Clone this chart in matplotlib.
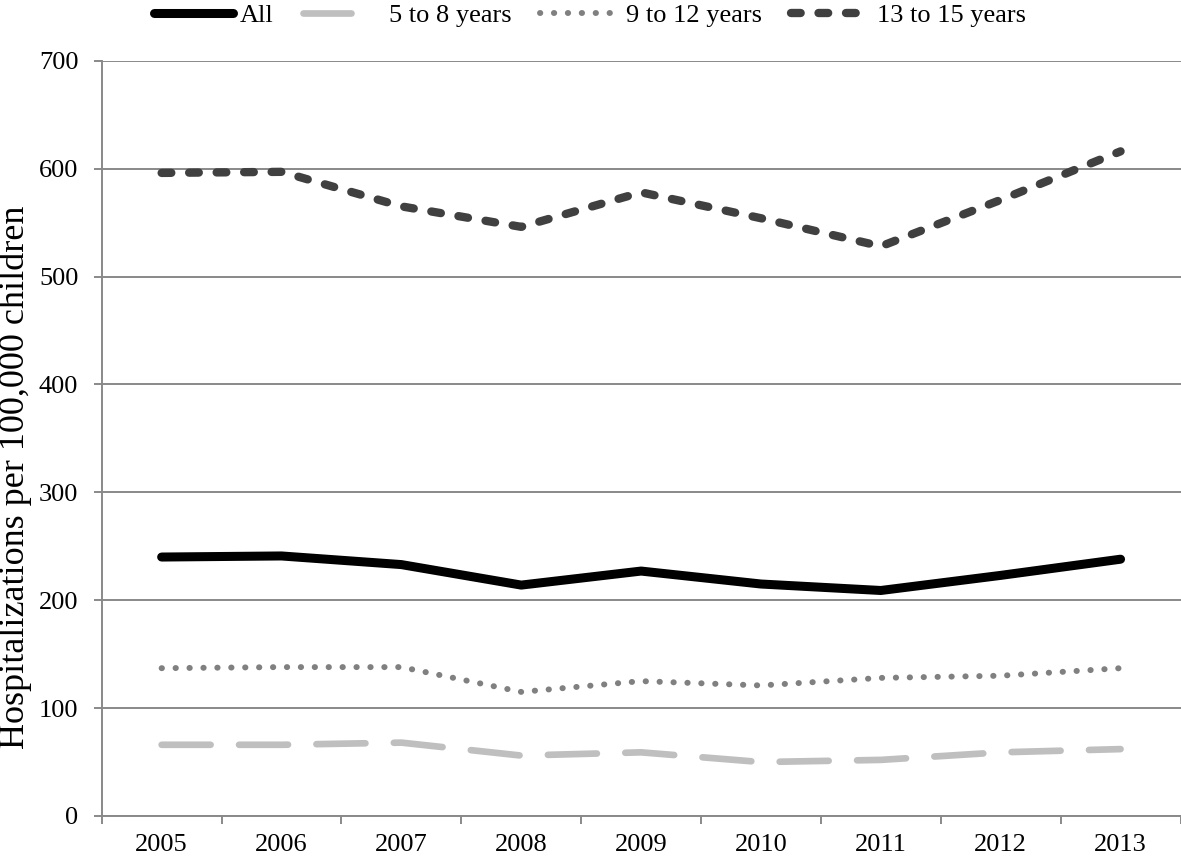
import matplotlib
matplotlib.use("Agg")
import matplotlib.pyplot as plt
import numpy as np
from matplotlib.ticker import FixedLocator
from matplotlib.lines import Line2D

years = ["2005", "2006", "2007", "2008", "2009", "2010", "2011", "2012", "2013"]
series_names = ["All", "5 to 8 years", "9 to 12 years", "13 to 15 years"]
all_ages = [240, 241, 233, 214, 227, 215, 209, 223, 238]
age_5_8 = [66, 66, 68, 56, 59, 50, 52, 59, 62]
age_9_12 = [137, 138, 138, 115, 125, 121, 128, 130, 137]
age_13_15 = [596, 597, 565, 546, 578, 554, 528, 571, 616]
y_ticks = [0, 100, 200, 300, 400, 500, 600, 700]
y_label = "Hospitalizations per 100,000 children"

plt.rcParams['font.family'] = ['Liberation Serif', 'DejaVu Serif']
FS = 19
GRID = '#898989'

fig = plt.figure(figsize=(11.81, 8.58), dpi=100)
ax = fig.add_axes([101.7 / 1181, 1 - 816 / 858, (1180.5 - 101.7) / 1181, (816 - 60.7) / 858])

x = np.arange(len(years))

l1, = ax.plot(x, all_ages, color='black', lw=6.5, solid_capstyle='round',
              solid_joinstyle='round', label=series_names[0], zorder=3)
l2, = ax.plot(x, age_5_8, color='#BFBFBF', lw=4.8, label=series_names[1], zorder=3)
l2.set_dash_capstyle('round')
l2.set_dashes([7.35, 4.26])
l3, = ax.plot(x, age_9_12, color='#808080', lw=4.3, label=series_names[2], zorder=3)
l3.set_dash_capstyle('round')
l3.set_dashes([0.05, 2.28])
l4, = ax.plot(x, age_13_15, color='#404040', lw=6.0, label=series_names[3], zorder=3)
l4.set_dash_capstyle('round')
l4.set_dashes([1.16, 2.14])

ax.set_xlim(-0.5, len(years) - 0.5)
ax.set_ylim(0, 700)
ax.set_yticks(y_ticks)
ax.set_yticklabels([str(v) for v in y_ticks], fontsize=FS)
ax.set_xticks(x)
ax.set_xticklabels(years, fontsize=FS)
ax.xaxis.set_minor_locator(FixedLocator(np.arange(-0.5, len(years), 1.0)))

ax.tick_params(axis='x', which='major', length=0, pad=13)
ax.tick_params(axis='x', which='minor', length=5.8, width=1.4, color=GRID, direction='out')
ax.tick_params(axis='y', which='major', length=5.8, width=1.4, color=GRID, direction='out', pad=11)

ax.grid(axis='y', color=GRID, lw=1.4, zorder=1)
ax.set_axisbelow(True)
for s in ['top', 'right']:
    ax.spines[s].set_visible(False)
for s in ['left', 'bottom']:
    ax.spines[s].set_color(GRID)
    ax.spines[s].set_linewidth(1.4)

ax.set_ylabel(y_label, fontsize=26)
ax.yaxis.label.set_va('center')
ax.yaxis.set_label_coords((15 - 101.7) / (1180.5 - 101.7), (816 - 477) / (816 - 60.7))

# legend handles (same styles; light dash shown as one dash like the original)
h1 = Line2D([], [], color='black', lw=6.5, solid_capstyle='round')
h2 = Line2D([], [], color='#BFBFBF', lw=4.8, dash_capstyle='round', dashes=[7.2, 30])
h3 = Line2D([], [], color='#808080', lw=4.3, dash_capstyle='round', dashes=[0.05, 2.28])
h4 = Line2D([], [], color='#404040', lw=6.0, dash_capstyle='round', dashes=[1.16, 2.14])

leg = fig.legend(handles=[h1, h2, h3, h4], labels=series_names, loc='upper center',
                 bbox_to_anchor=(0.4996, 1.008),
                 ncol=4, frameon=False, fontsize=FS, handlelength=3.0,
                 handletextpad=0.25, columnspacing=1.1, borderaxespad=0.0)

fig.savefig("out.png", dpi=100)
